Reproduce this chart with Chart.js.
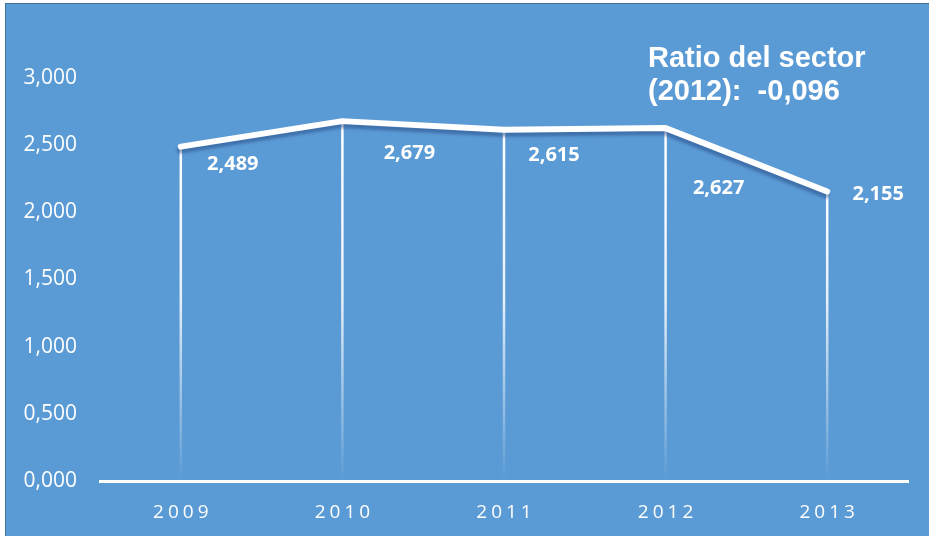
<!DOCTYPE html>
<html>
<head>
<meta charset="utf-8">
<script src="https://cdn.jsdelivr.net/npm/chart.js@4.4.1/dist/chart.umd.min.js"></script>
<style>
  html, body { margin: 0; padding: 0; background: #fff; overflow: hidden; }
  #frame { position: absolute; left: 5px; top: 3px; width: 930px; height: 540px;
           background: #5b9bd5; border-left: 1px solid #41719c; border-top: 1px solid #41719c; }
  #wrap { position: absolute; left: 0; top: 0; width: 929px; height: 536px; }
</style>
</head>
<body>
<div id="frame"></div>
<div id="wrap"><canvas id="c"></canvas></div>
<script>
const years = ['2009', '2010', '2011', '2012', '2013'];
const ratios = [2.489, 2.679, 2.615, 2.627, 2.155];
const sectorLines = ['Ratio del sector', '(2012):  -0,096'];

const fmt = v => v.toFixed(3).replace('.', ',');

// where each value label sits relative to its point
const labelShift = [[52, 18], [67, 32], [50, 26], [53, 60], [51, 3]];

const extras = {
  id: 'extras',
  beforeDatasetsDraw(chart) {
    const ctx = chart.ctx, y0 = chart.scales.y.getPixelForValue(0);
    chart.getDatasetMeta(0).data.forEach(p => {
      const g = ctx.createLinearGradient(0, p.y, 0, y0);
      const mid = Math.max(0, Math.min(1, (300 - p.y) / (y0 - p.y)));
      g.addColorStop(0, 'rgba(255,255,255,1)');
      g.addColorStop(mid, 'rgba(255,255,255,0.85)');
      g.addColorStop(1, 'rgba(255,255,255,0)');
      ctx.save();
      ctx.strokeStyle = g;
      ctx.lineWidth = 2.5;
      ctx.beginPath();
      ctx.moveTo(p.x, p.y);
      ctx.lineTo(p.x, y0 - 2);
      ctx.stroke();
      ctx.restore();
    });
  },
  beforeDatasetDraw(chart) {
    const ctx = chart.ctx;
    ctx.save();
    ctx.shadowColor = 'rgba(35,70,130,0.5)';
    ctx.shadowOffsetX = -1;
    ctx.shadowOffsetY = 4;
    ctx.shadowBlur = 3;
  },
  afterDatasetDraw(chart) {
    chart.ctx.restore();
  },
  afterDraw(chart) {
    const ctx = chart.ctx, xs = chart.scales.x;
    ctx.save();
    ctx.fillStyle = '#fff';

    // value labels
    ctx.font = 'bold 20px "Open Sans"';
    ctx.textAlign = 'center';
    ctx.textBaseline = 'middle';
    chart.getDatasetMeta(0).data.forEach((p, i) => {
      ctx.fillText(fmt(ratios[i]), p.x + labelShift[i][0], p.y + labelShift[i][1]);
    });

    // category labels, spaced out
    ctx.font = '19px "Open Sans"';
    ctx.letterSpacing = '4px';
    ctx.textAlign = 'left';
    years.forEach((yr, i) => {
      const w = ctx.measureText(yr).width - 4;
      ctx.fillText(yr, xs.getPixelForValue(i) - w / 2, xs.top + 32);
    });
    ctx.letterSpacing = '0px';

    // sector note
    ctx.font = 'bold 29px "Liberation Sans"';
    ctx.textBaseline = 'alphabetic';
    ctx.fillText(sectorLines[0], 648, 67);
    ctx.fillText(sectorLines[1], 648, 100);
    ctx.restore();
  }
};

new Chart(document.getElementById('c'), {
  type: 'line',
  data: {
    labels: years,
    datasets: [{
      data: ratios,
      borderColor: '#fff',
      borderWidth: 6,
      borderCapStyle: 'round',
      borderJoinStyle: 'round',
      pointRadius: 0,
      tension: 0
    }]
  },
  options: {
    responsive: true,
    maintainAspectRatio: false,
    animation: false,
    layout: { padding: { top: 78, right: 21, left: 0, bottom: 0 } },
    plugins: { legend: { display: false }, tooltip: { enabled: false } },
    scales: {
      x: {
        offset: true,
        grid: { display: false, drawTicks: false },
        border: { display: true, color: '#fff', width: 3 },
        ticks: { display: false },
        afterFit: s => { s.height = 55; }
      },
      y: {
        min: 0, max: 3,
        grid: { display: false, drawTicks: false },
        border: { display: false },
        ticks: {
          stepSize: 0.5,
          padding: 23,
          color: '#fff',
          font: { family: '"Open Sans"', size: 21 },
          callback: v => fmt(v)
        },
        afterFit: s => { s.width = 100; }
      }
    }
  },
  plugins: [extras]
});
</script>
</body>
</html>
